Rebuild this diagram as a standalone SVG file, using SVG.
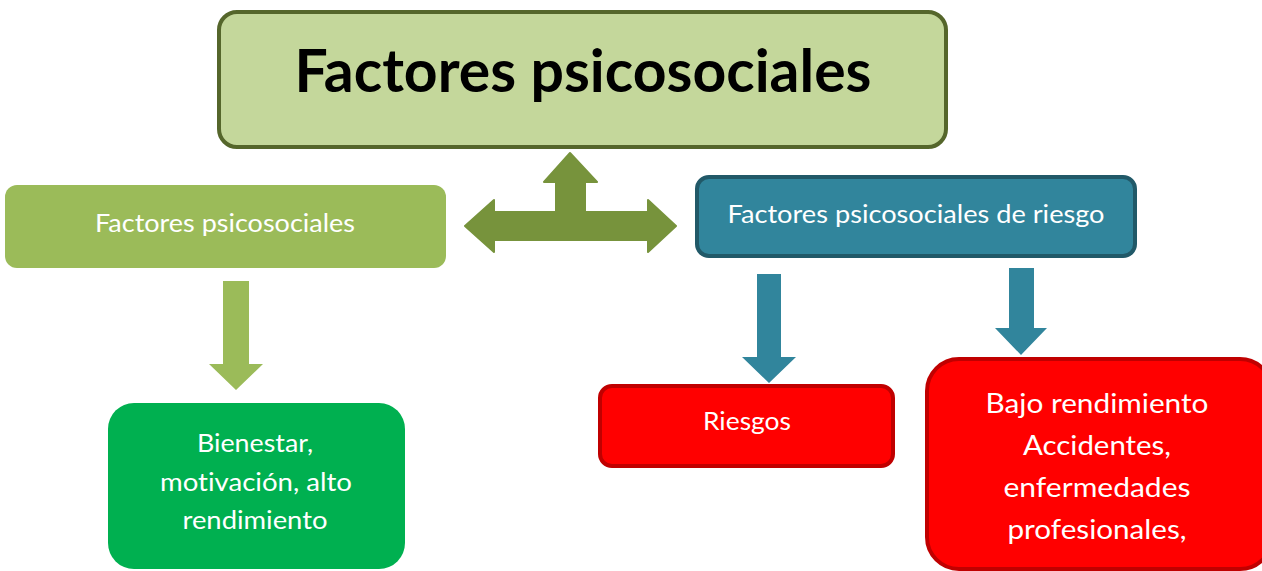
<svg xmlns="http://www.w3.org/2000/svg" width="1262" height="571" viewBox="0 0 1262 571">
<style>
text{font-family:Lato,"Open Sans","Liberation Sans",sans-serif;text-anchor:middle;font-variant-ligatures:none;}
.w{fill:#ffffff;font-size:25px;}
.b{font-size:27px;}
.t{fill:#000000;font-size:60px;font-weight:bold;}
.r{fill:#ff0000;stroke:#c00000;stroke-width:4;}
</style>
<rect width="1262" height="571" fill="#ffffff"/>
<g id="connectors">
<path d="M570,153 L597,182 L585,182 L585,212 L648,212 L648,200 L676,226 L648,252 L648,240 L494,240 L494,252 L465,226 L494,200 L494,212 L556,212 L556,182 L544,182 Z" fill="#77933c" stroke="#77933c" stroke-width="2" stroke-linejoin="round"/>
<path d="M223,281 L249,281 L249,364 L263,364 L236,390 L209,364 L223,364 Z" fill="#9bbb59"/>
<path d="M757,274 L781,274 L781,357 L796,357 L769,383 L742,357 L757,357 Z" fill="#31859c"/>
<path d="M1009,268 L1034,268 L1034,328 L1047,328 L1021,355 L995,328 L1009,328 Z" fill="#31859c"/>
</g>
<g id="title">
<rect x="219" y="12" width="727" height="135" rx="18" fill="#c4d79b" stroke="#55662b" stroke-width="4"/>
<text class="t" x="583" y="92" textLength="577" lengthAdjust="spacingAndGlyphs">Factores psicosociales</text>
</g>
<g id="left">
<rect x="5" y="185" width="441" height="83" rx="12" fill="#9bbb59"/>
<text class="w" x="225" y="232" textLength="260" lengthAdjust="spacingAndGlyphs">Factores psicosociales</text>
</g>
<g id="right">
<rect x="697" y="177" width="438" height="79" rx="12" fill="#31859c" stroke="#215968" stroke-width="4"/>
<text class="w" x="916" y="223" textLength="377" lengthAdjust="spacingAndGlyphs">Factores psicosociales de riesgo</text>
</g>
<g id="green">
<rect x="108" y="403" width="297" height="166" rx="26" fill="#00b050"/>
<text class="w" x="255" y="452" textLength="116" lengthAdjust="spacingAndGlyphs">Bienestar,</text>
<text class="w" x="256" y="491" textLength="192" lengthAdjust="spacingAndGlyphs">motivación, alto</text>
<text class="w" x="255" y="529" textLength="145" lengthAdjust="spacingAndGlyphs">rendimiento</text>
</g>
<g id="riesgos">
<rect class="r" x="600" y="386" width="293" height="80" rx="12"/>
<text class="w" x="747" y="430" textLength="88" lengthAdjust="spacingAndGlyphs">Riesgos</text>
</g>
<g id="bajo">
<rect class="r" x="927" y="359" width="345" height="210" rx="32"/>
<text class="w b" x="1097" y="413" textLength="223" lengthAdjust="spacingAndGlyphs">Bajo rendimiento</text>
<text class="w b" x="1097" y="455" textLength="148" lengthAdjust="spacingAndGlyphs">Accidentes,</text>
<text class="w b" x="1097" y="497" textLength="187" lengthAdjust="spacingAndGlyphs">enfermedades</text>
<text class="w b" x="1097" y="539" textLength="179" lengthAdjust="spacingAndGlyphs">profesionales,</text>
</g>
</svg>
